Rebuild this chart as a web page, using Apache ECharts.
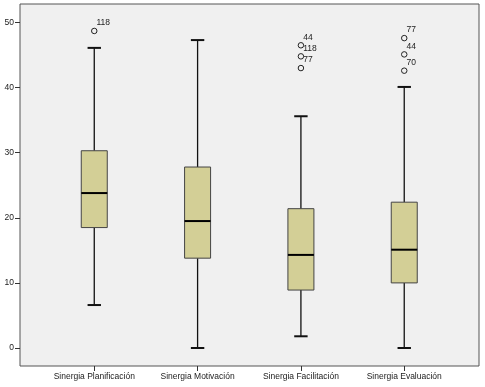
<!DOCTYPE html>
<html><head><meta charset="utf-8">
<script src="https://cdn.jsdelivr.net/npm/echarts@6/dist/echarts.min.js"></script>
<style>html,body{margin:0;padding:0;background:#fff}#c{width:485px;height:387px}</style>
</head><body><div id="c"></div>
<script>
const categories = ['Sinergia Planificación','Sinergia Motivación','Sinergia Facilitación','Sinergia Evaluación'];
// [lower whisker, Q1, median, Q3, upper whisker]
const boxValues = [
  [6.6, 18.5, 23.8, 30.3, 46.1],
  [0, 13.8, 19.5, 27.8, 47.3],
  [1.8, 8.9, 14.3, 21.4, 35.6],
  [0, 10.0, 15.1, 22.4, 40.1]
];
// outliers: [category index, value, case label]
const outliers = [
  [0, 48.7, '118'],
  [2, 46.5, '44'],
  [2, 44.8, '118'],
  [2, 43.0, '77'],
  [3, 47.6, '77'],
  [3, 45.1, '44'],
  [3, 42.6, '70']
];
const yTicks = [0, 10, 20, 30, 40, 50];

// layout (pixels)
const frameL = 20, frameT = 4, frameR = 479, frameB = 366;
const y0px = 348, y50px = 22.5;
const pxPerUnit = (y0px - y50px) / 50;
const yMinFull = -(frameB - y0px) / pxPerUnit;
const yMaxFull = 50 + (y50px - frameT) / pxPerUnit;

const FONT = 'Liberation Sans, Arial, sans-serif';
const chart = echarts.init(document.getElementById('c'), null, {renderer:'canvas'});
chart.setOption({
  animation: false,
  backgroundColor: '#ffffff',
  grid: [
    {left: frameL, top: frameT, width: frameR - frameL, height: frameB - frameT, show: true, backgroundColor: '#f0f0f0', borderColor: '#555', borderWidth: 1},
    {left: 42.6, top: frameT, width: 413.3, height: frameB - frameT},
    {left: frameL, top: y50px, width: frameR - frameL, height: y0px - y50px}
  ],
  xAxis: [
    {gridIndex: 0, type: 'value', show: false, min: 0, max: 1},
    {gridIndex: 1, type: 'category', data: categories,
      axisLine: {show: false, onZero: false},
      axisTick: {show: true, alignWithLabel: true, length: 5, lineStyle: {color: '#333', width: 1}},
      axisLabel: {fontFamily: FONT, fontSize: 8.5, color: '#222', margin: 6, interval: 0}},
    {gridIndex: 2, type: 'value', show: false, min: 0, max: 1}
  ],
  yAxis: [
    {gridIndex: 0, type: 'value', show: false, min: 0, max: 1},
    {gridIndex: 1, type: 'value', show: false, min: yMinFull, max: yMaxFull},
    {gridIndex: 2, type: 'value', min: yTicks[0], max: yTicks[yTicks.length-1], interval: 10,
      axisLine: {show: false, onZero: false},
      splitLine: {show: false},
      axisTick: {show: true, length: 5, lineStyle: {color: '#333', width: 1}},
      axisLabel: {fontFamily: FONT, fontSize: 8.5, color: '#222', margin: 6}}
  ],
  series: [
    {
      type: 'custom', xAxisIndex: 1, yAxisIndex: 1,
      data: boxValues.map((b, i) => [i].concat(b)),
      renderItem: function (params, api) {
        const x = api.value(0);
        const p = [1,2,3,4,5].map(k => api.coord([x, api.value(k)]));
        const cx = p[0][0];
        const hw = 13, cw = 6.7;
        const lo = p[0][1], q1 = p[1][1], md = p[2][1], q3 = p[3][1], hi = p[4][1];
        const ls = {stroke: '#111', lineWidth: 1.3};
        return {type: 'group', children: [
          {type: 'line', shape: {x1: cx, y1: hi, x2: cx, y2: q3}, style: ls},
          {type: 'line', shape: {x1: cx, y1: q1, x2: cx, y2: lo}, style: ls},
          {type: 'line', shape: {x1: cx - cw, y1: hi, x2: cx + cw, y2: hi}, style: {stroke: '#111', lineWidth: 2}},
          {type: 'line', shape: {x1: cx - cw, y1: lo, x2: cx + cw, y2: lo}, style: {stroke: '#111', lineWidth: 2}},
          {type: 'rect', shape: {x: cx - hw, y: q3, width: 2 * hw, height: q1 - q3}, style: {fill: '#d3cf96', stroke: '#444', lineWidth: 1}},
          {type: 'line', shape: {x1: cx - hw, y1: md, x2: cx + hw, y2: md}, style: {stroke: '#000', lineWidth: 2}}
        ]};
      }
    },
    {
      type: 'scatter', xAxisIndex: 1, yAxisIndex: 1,
      symbol: 'circle', symbolSize: 5.5,
      itemStyle: {color: '#f0f0f0', borderColor: '#222', borderWidth: 1, opacity: 1},
      data: outliers.map(o => ({value: [o[0], o[1]], name: o[2]})),
      label: {show: true, position: 'right', distance: 0, offset: [-1, -8], formatter: '{b}',
        fontFamily: FONT, fontSize: 8.5, color: '#222'}
    }
  ]
});
</script></body></html>
